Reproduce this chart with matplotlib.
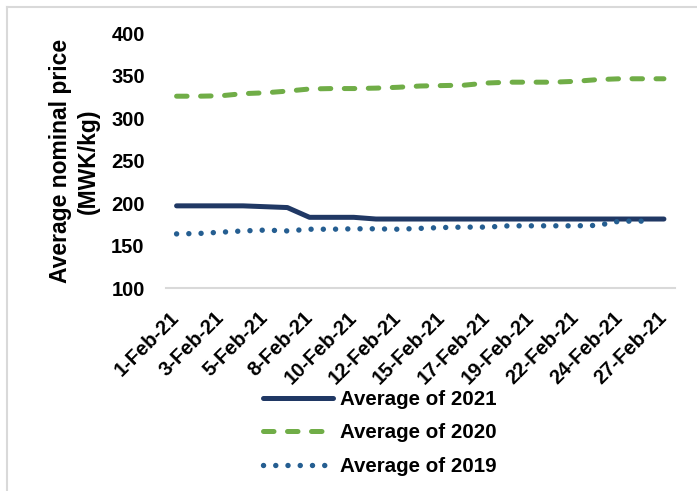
import numpy as np
import matplotlib
matplotlib.use("Agg")
import matplotlib.pyplot as plt
from matplotlib.lines import Line2D

plt.rcParams['font.family'] = ['Liberation Sans', 'DejaVu Sans']

# dias de febrero (categorias del eje x)
dias = [1, 2, 3, 4, 5, 6, 8, 9, 10, 11, 12, 13, 15, 16, 17, 18, 19, 20, 22, 23, 24, 25, 27]
etiquetas = [f"{d}-Feb-21" for d in dias]

# precios promedio (MWK/kg)
avg2021 = [197, 197, 197, 197, 196, 195, 183.5, 183.5, 183.5, 181.5, 181.5, 181.5,
           181.5, 181.5, 181.5, 181.5, 181.5, 181.5, 181.5, 181.5, 181.5, 181.5, 181.5]
avg2020 = [326, 326, 326.5, 329, 330, 332, 334.5, 335, 335, 335.5, 336.5, 338,
           338.5, 339, 341.5, 342.5, 342.5, 342.5, 343.5, 345.5, 346.5, 346.5, 346.5]
avg2019 = [164, 164.5, 166, 167.5, 168.5, 167.5, 169.5, 169.5, 170, 170, 169.5, 170.5,
           171.5, 172, 172, 173.5, 173.5, 173.5, 173.5, 174, 179, 179, np.nan]

W, H = 697, 491
fig = plt.figure(figsize=(W / 100, H / 100), dpi=100)
ax = fig.add_axes([165.5 / W, 1 - 288.3 / H, (675 - 165.5) / W, (288.3 - 33.3) / H])

x = np.arange(len(dias))
ax.plot(x, avg2021, color='#203864', lw=3.6, solid_capstyle='round',
        solid_joinstyle='round', label='Average of 2021')
ax.plot(x, avg2020, color='#70AD47', lw=3.6, linestyle=(0, (2.1, 2.7)),
        dash_capstyle='round', label='Average of 2020')
ax.plot(x, avg2019, color='#255E91', lw=3.9, linestyle=(0, (0.01, 2.25)),
        dash_capstyle='round', label='Average of 2019')

ax.set_xlim(-0.5, len(dias) - 0.5)
ax.set_ylim(100, 400)
ax.set_yticks(np.arange(100, 401, 50))
ax.set_xticks(x[::2])
ax.set_xticklabels(etiquetas[::2], rotation=45, ha='right', va='center',
                   rotation_mode='anchor')

for s in ['top', 'right', 'left']:
    ax.spines[s].set_visible(False)
ax.spines['bottom'].set_color('#D9D9D9')
ax.spines['bottom'].set_linewidth(1.5)
ax.tick_params(axis='y', length=0, pad=15, labelsize=14.5)
ax.tick_params(axis='x', length=0, pad=19, labelsize=14.5)
for t in ax.get_xticklabels() + ax.get_yticklabels():
    t.set_fontweight('bold')

ax.set_ylabel('Average nominal price\n(MWK/kg)', fontsize=16.5,
              fontweight='bold', labelpad=8, linespacing=1.3)

fig.legend(loc='center', bbox_to_anchor=(380 / W, 1 - 433 / H), frameon=False,
           prop={'weight': 'bold', 'size': 14.8}, handlelength=3.4,
           handletextpad=0.35, labelspacing=0.7)

# marco gris del grafico
fig.add_artist(Line2D([7 / W, 7 / W], [0, 1 - 7 / H], color='#D9D9D9', lw=1.5))
fig.add_artist(Line2D([7 / W, 1], [1 - 7 / H, 1 - 7 / H], color='#D9D9D9', lw=1.5))

fig.savefig('out.png', dpi=100)
